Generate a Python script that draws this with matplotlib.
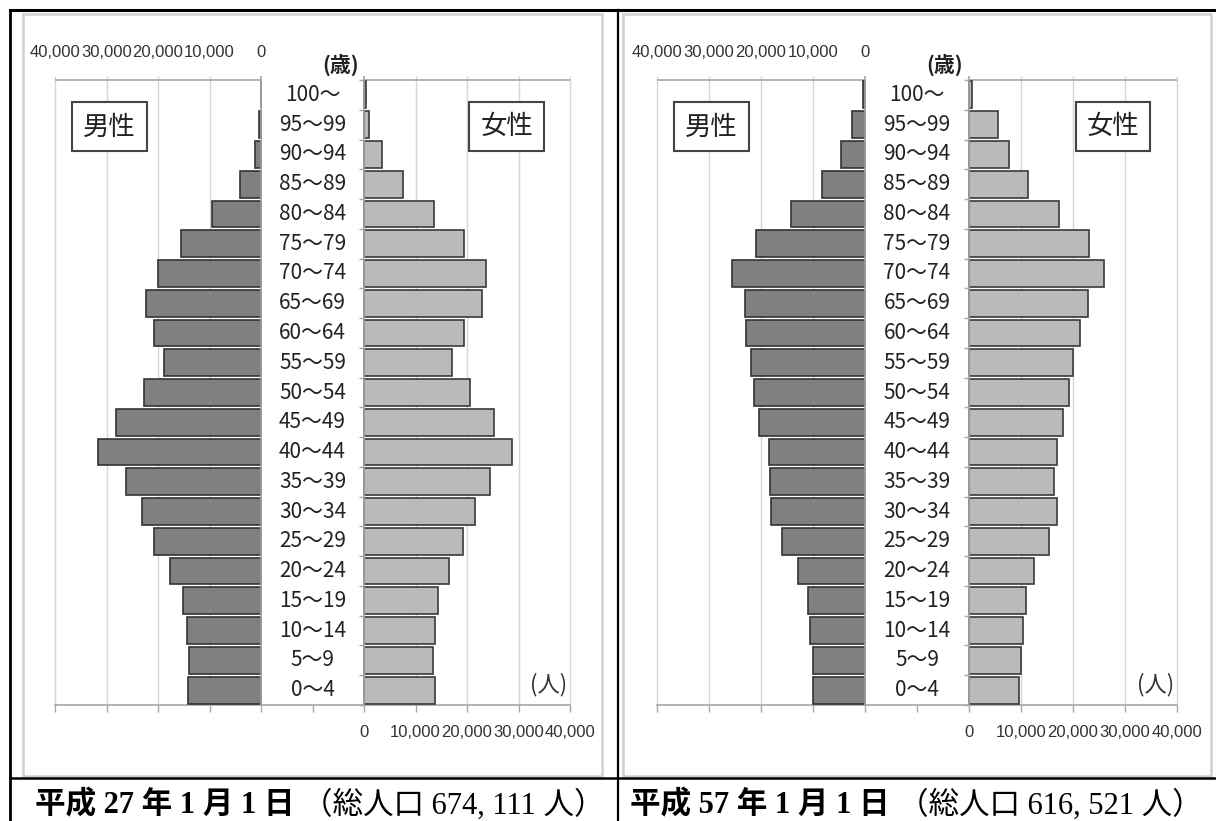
import matplotlib
matplotlib.use("Agg")
import matplotlib.pyplot as plt
from matplotlib.lines import Line2D
from matplotlib.patches import Rectangle
import numpy as np

# age groups, youngest first
ages = ["0～4", "5～9", "10～14", "15～19", "20～24", "25～29", "30～34",
        "35～39", "40～44", "45～49", "50～54", "55～59", "60～64", "65～69",
        "70～74", "75～79", "80～84", "85～89", "90～94", "95～99", "100～"]

# H27 (2015) population by age group
male_h27 = [14200, 14000, 14400, 15100, 17700, 20800, 23100, 26200, 31600, 28100,
            22700, 18800, 20800, 22300, 20000, 15500, 9500, 4100, 1200, 400, 50]
female_h27 = [13800, 13400, 13800, 14400, 16500, 19200, 21500, 24500, 28700, 25200,
              20600, 17100, 19400, 22900, 23700, 19400, 13600, 7600, 3400, 1000, 300]

# H57 (2045) projection
male_h57 = [10000, 10000, 10600, 11000, 12900, 16000, 18100, 18300, 18500, 20400,
            21300, 21900, 22900, 23100, 25600, 21000, 14200, 8300, 4600, 2500, 400]
female_h57 = [9600, 10000, 10400, 11000, 12500, 15400, 16900, 16400, 16900, 18100,
              19200, 20000, 21400, 22900, 26000, 23100, 17300, 11400, 7700, 5600, 600]

tick_values = [0, 10000, 20000, 30000, 40000]
tick_labels = ["0", "10,000", "20,000", "30,000", "40,000"]

captions = [("平成 27 年 1 月 1 日", "（総人口 674, 111 人）"),
            ("平成 57 年 1 月 1 日", "（総人口 616, 521 人）")]

W, H = 1216, 821
fig = plt.figure(figsize=(W / 100, H / 100), dpi=100)

GAP = 10000          # half of the blank centre strip, in people
AX_TOP, AX_BOT = 80, 705
AXIS_GRAY = "#a6a6a6"
GRID_GRAY = "#d6d6d6"
CJK = ["Noto Sans CJK JP", "DejaVu Sans"]
NUM = ["Liberation Sans", "DejaVu Sans"]
SERIF = ["Liberation Serif", "Noto Sans CJK JP"]


def fline(x0, y0, x1, y1, **kw):
    fig.add_artist(Line2D([x0 / W, x1 / W], [1 - y0 / H, 1 - y1 / H],
                          transform=fig.transFigure, **kw))


def pyramid(x0, x1, male, female, cap, cap_x0, cap_x1):
    ax = fig.add_axes([x0 / W, 1 - AX_BOT / H, (x1 - x0) / W, (AX_BOT - AX_TOP) / H])
    span = GAP + tick_values[-1]
    ax.set_xlim(-span, span)
    n = len(ages)
    ax.set_ylim(-0.5, n - 0.5)
    per_px = 2 * span / (x1 - x0)
    per_py = n / (AX_BOT - AX_TOP)
    top = n - 0.5

    y = np.arange(n)
    ax.barh(y, -np.array(male), left=-GAP, height=0.9, color="#808080",
            edgecolor="#333333", linewidth=1.2, zorder=3)
    ax.barh(y, female, left=GAP, height=0.9, color="#bababa",
            edgecolor="#3a3a3a", linewidth=1.2, zorder=3)

    # grid lines and the two value axes
    for t in tick_values[1:]:
        ax.vlines([-GAP - t, GAP + t], -0.5, top + 4 * per_py, color=GRID_GRAY,
                  lw=1.0, zorder=1, clip_on=False)
    ax.vlines([-GAP, GAP], -0.5, top + 4 * per_py, color=AXIS_GRAY, lw=1.2,
              zorder=4, clip_on=False)
    ax.hlines(top, -span, -GAP, color=AXIS_GRAY, lw=1.2, clip_on=False)
    ax.hlines(top, GAP, span, color=AXIS_GRAY, lw=1.2, clip_on=False)
    ax.hlines(np.arange(-0.5, n), GAP - 5 * per_px, GAP, color=AXIS_GRAY, lw=1.0,
              clip_on=False)

    for s in ["top", "left", "right"]:
        ax.spines[s].set_visible(False)
    ax.spines["bottom"].set_color(AXIS_GRAY)
    ax.spines["bottom"].set_linewidth(1.2)
    ax.set_xticks(np.arange(-span, span + 1, 10000))
    ax.set_xticklabels([])
    ax.tick_params(axis="x", length=5, color=AXIS_GRAY, width=1.0)
    ax.set_yticks([])
    ax.patch.set_alpha(0)

    for t, lab in zip(tick_values, tick_labels):
        ax.annotate(lab, xy=(-GAP - t, 1), xycoords=("data", "axes fraction"),
                    xytext=(0, 19.5), textcoords="offset points", ha="center",
                    va="center", fontsize=12, color="#333333", family=NUM)
        ax.annotate(lab, xy=(GAP + t, 0), xycoords=("data", "axes fraction"),
                    xytext=(0, -20), textcoords="offset points", ha="center",
                    va="center", fontsize=12, color="#333333", family=NUM)

    for i, lab in enumerate(ages):
        ax.text(0, i, lab, ha="center", va="center", fontsize=15,
                color="#222222", family=CJK)

    ax.annotate("(歳)", xy=(0, 1), xycoords=("data", "axes fraction"),
                xytext=(20, 11), textcoords="offset points", ha="center",
                va="center", fontsize=15, fontweight="bold", color="#222222",
                family=CJK)

    box = dict(boxstyle="square,pad=0.42", fc="white", ec="#444444", lw=1.5)
    ax.text(0.105, 0.925, "男性", transform=ax.transAxes, ha="center", va="center",
            fontsize=19, family=CJK, color="#222222", bbox=box, zorder=6)
    ax.text(0.877, 0.925, "女性", transform=ax.transAxes, ha="center", va="center",
            fontsize=19, family=CJK, color="#222222", bbox=box, zorder=6)
    ax.text(0.958, 0.032, "(人)", transform=ax.transAxes, ha="center", va="center",
            fontsize=16, family=CJK, color="#333333")

    fig.text(cap_x0 / W, 1 - 805 / H, cap[0], ha="left", va="center", fontsize=22,
             fontweight="bold", family=SERIF)
    fig.text(cap_x1 / W, 1 - 805 / H, cap[1], ha="right", va="center", fontsize=22,
             family=SERIF)


# light chart-area frames
for rx0, rx1 in [(23, 602), (623, 1211)]:
    fig.add_artist(Rectangle((rx0 / W, 1 - 776 / H), (rx1 - rx0) / W, 762 / H,
                             transform=fig.transFigure, fill=False,
                             ec="#d0d0d0", lw=1.8))

pyramid(55, 570, male_h27, female_h27, captions[0], 35, 605)
pyramid(657, 1177, male_h57, female_h57, captions[1], 630, 1203)

# table rules
fline(10, 10, W, 10, color="black", lw=2.2)
fline(10, 10, 10, H, color="black", lw=2.0)
fline(618, 10, 618, H, color="black", lw=1.6)
fline(10, 778, W, 778, color="black", lw=1.8)

fig.savefig("out.png", dpi=100)
